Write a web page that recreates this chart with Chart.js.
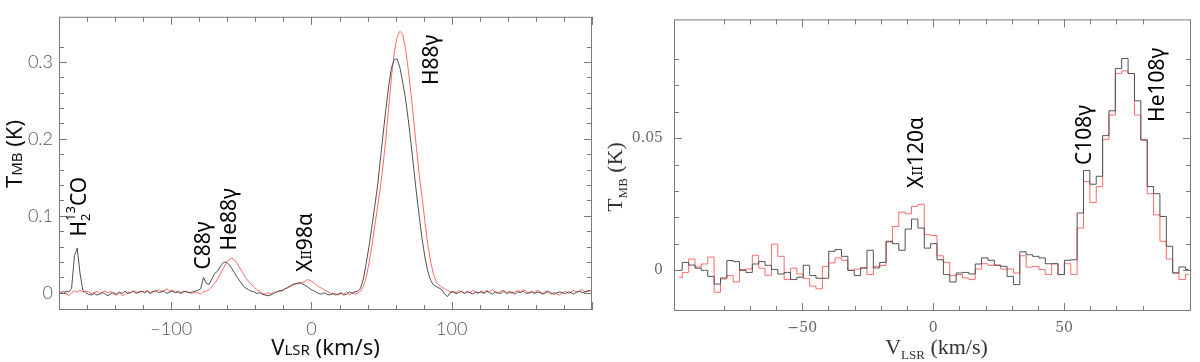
<!DOCTYPE html>
<html>
<head>
<meta charset="utf-8">
<script src="https://cdn.jsdelivr.net/npm/chart.js@4.4.1/dist/chart.umd.min.js"></script>
<style>
  html, body { margin: 0; padding: 0; background: #fff; }
  #wrap { position: relative; width: 1200px; height: 362px; overflow: hidden; }
  canvas { position: absolute; top: 0; }
  #leftChart { left: 0; }
  #rightChart { left: 600px; }
</style>
</head>
<body>
<div id="wrap">
  <canvas id="leftChart" width="600" height="362"></canvas>
  <canvas id="rightChart" width="600" height="362"></canvas>
</div>
<script>
// ---- left panel: wide band, 2 km/s channels starting at -179 km/s ----
const wideStart = -179;
const wideStep = 2;
const wideBlack = [
   0.001, -0.001,  0.002,  0.001,  0.006,  0.048,  0.058,  0.025,  0.003,  0.000,
  -0.002, -0.003, -0.001, -0.003, -0.002,  0.000, -0.002, -0.004, -0.001,  0.000,
  -0.002,  0.001, -0.001,  0.002, -0.001,  0.000,  0.002, -0.001,  0.001,  0.002,
   0.000,  0.002, -0.001,  0.001,  0.003,  0.000,  0.001,  0.002, -0.001,  0.001,
   0.002,  0.000,  0.001, -0.001,  0.002,  0.001,  0.000,  0.001,  0.002,  0.003,
   0.005,  0.020,  0.012,  0.011,  0.018,  0.025,  0.028,  0.034,  0.039,  0.040,
   0.037,  0.032,  0.026,  0.020,  0.015,  0.010,  0.006,  0.004,  0.002,  0.001,
  -0.001,  0.000, -0.002, -0.003, -0.004, -0.003, -0.001,  0.001,  0.002,  0.003,
   0.005,  0.007,  0.009,  0.011,  0.012,  0.013,  0.012,  0.010,  0.008,  0.005,
   0.003,  0.001, -0.001, -0.002,  0.000, -0.002, -0.003, -0.001, -0.003, -0.002,
   0.000, -0.003, -0.002,  0.001, -0.001,  0.001,  0.002,  0.006,  0.018,  0.038,
   0.060,  0.085,  0.111,  0.137,  0.171,  0.205,  0.238,  0.268,  0.292,  0.303,
   0.304,  0.293,  0.274,  0.253,  0.225,  0.194,  0.160,  0.127,  0.097,  0.068,
   0.045,  0.027,  0.016,  0.010,  0.008,  0.006,  0.004, -0.002, -0.005,  0.000,
   0.001, -0.001,  0.000,  0.002, -0.001,  0.001,  0.000, -0.002,  0.001,  0.000,
   0.001, -0.001,  0.002,  0.000, -0.002,  0.001,  0.000, -0.001,  0.002, -0.001,
   0.000,  0.001, -0.002,  0.001,  0.000,  0.002, -0.001,  0.000,  0.001, -0.001,
   0.001,  0.000, -0.002,  0.000,  0.002, -0.001, -0.002,  0.000,  0.001,  0.000,
  -0.001,  0.001,  0.000, -0.002,  0.001,  0.002,  0.000,  0.001,  0.002,  0.003
];
const wideRed = [
   0.000,  0.002, -0.001, -0.004,  0.000,  0.002,  0.001,  0.003,  0.001,  0.002,
   0.001, -0.001,  0.000,  0.002, -0.001,  0.001,  0.002,  0.000,  0.002, -0.002,
  -0.003,  0.000, -0.004, -0.002,  0.001,  0.000,  0.002,  0.001,  0.000,  0.002,
   0.001,  0.003,  0.000,  0.002,  0.001,  0.004,  0.002,  0.003,  0.005,  0.002,
   0.003,  0.001,  0.002,  0.000,  0.001,  0.002,  0.000, -0.001,  0.001,  0.000,
  -0.002,  0.001,  0.002,  0.004,  0.008,  0.012,  0.018,  0.024,  0.031,  0.038,
   0.043,  0.045,  0.043,  0.038,  0.032,  0.026,  0.020,  0.015,  0.011,  0.007,
   0.004,  0.002, -0.001, -0.002,  0.000, -0.002,  0.001,  0.000,  0.003,  0.002,
   0.005,  0.006,  0.008,  0.010,  0.011,  0.012,  0.013,  0.014,  0.017,  0.016,
   0.014,  0.011,  0.008,  0.006,  0.004,  0.002,  0.000, -0.002, -0.001, -0.003,
  -0.001, -0.002,  0.001, -0.003,  0.000, -0.002, -0.001,  0.002,  0.008,  0.020,
   0.038,  0.060,  0.085,  0.110,  0.135,  0.165,  0.200,  0.240,  0.280,  0.312,
   0.332,  0.340,  0.336,  0.318,  0.290,  0.258,  0.222,  0.186,  0.150,  0.122,
   0.090,  0.062,  0.040,  0.024,  0.014,  0.010,  0.007,  0.005,  0.003,  0.001,
   0.002,  0.000,  0.003,  0.001, -0.001,  0.002,  0.000,  0.003,  0.001, -0.001,
   0.002,  0.000,  0.003,  0.001,  0.004,  0.001, -0.001,  0.002,  0.003,  0.000,
   0.002, -0.001,  0.001,  0.003,  0.001,  0.004,  0.002, -0.001,  0.002,  0.000,
   0.003,  0.001, -0.001,  0.002,  0.000, -0.002,  0.001, -0.002, -0.003,  0.000,
   0.002, -0.001,  0.001,  0.003,  0.000,  0.002,  0.004,  0.001,  0.003,  0.002
];

// ---- right panel: zoom on the 108 band, 2.433 km/s channels from -97.06 km/s ----
const zoomStart = -97.06;
const zoomStep = 2.433;
const zoomBlack = [
   0.0000,  0.0030,  0.0020,  0.0008,  0.0000, -0.0023, -0.0052, -0.0029,  0.0037,  0.0033,
   0.0000, -0.0008,  0.0024,  0.0033,  0.0019,  0.0003, -0.0014, -0.0008, -0.0035, -0.0026,
   0.0019, -0.0020, -0.0030, -0.0030,  0.0072,  0.0079,  0.0053,  0.0000, -0.0020,  0.0008,
   0.0076,  0.0009,  0.0030,  0.0110,  0.0101,  0.0076,  0.0156,  0.0194,  0.0160,  0.0084,
   0.0101,  0.0040, -0.0016, -0.0044, -0.0010, -0.0008, -0.0014,  0.0024,  0.0047,  0.0038,
   0.0019,  0.0015, -0.0023, -0.0054,  0.0070,  0.0059,  0.0053,  0.0047,  0.0025,  0.0025,
  -0.0016,  0.0038,  0.0040,  0.0217,  0.0378,  0.0326,  0.0356,  0.0510,  0.0604,  0.0764,
   0.0802,  0.0745,  0.0642,  0.0493,  0.0317,  0.0290,  0.0204,  0.0091, -0.0010,  0.0013,
   0.0003
];
const zoomRed = [
  -0.0026, -0.0008,  0.0043,  0.0013,  0.0024,  0.0050, -0.0083, -0.0033, -0.0020, -0.0044,
   0.0003,  0.0005,  0.0057,  0.0008, -0.0019,  0.0099,  0.0053, -0.0035,  0.0008, -0.0014,
  -0.0031, -0.0060, -0.0070,  0.0015,  0.0028,  0.0047,  0.0038,  0.0000,  0.0005,  0.0011,
  -0.0016,  0.0015,  0.0018,  0.0107,  0.0166,  0.0220,  0.0214,  0.0242,  0.0250,  0.0135,
   0.0132,  0.0055,  0.0030, -0.0020, -0.0016, -0.0029, -0.0035,  0.0005,  0.0025,  0.0019,
   0.0020,  0.0005,  0.0005, -0.0010,  0.0055,  0.0012,  0.0015,  0.0003, -0.0016,  0.0025,
  -0.0016,  0.0025, -0.0016,  0.0160,  0.0336,  0.0257,  0.0317,  0.0496,  0.0588,  0.0745,
   0.0755,  0.0745,  0.0588,  0.0496,  0.0290,  0.0210,  0.0110,  0.0043, -0.0010, -0.0035,
  -0.0016
];

// labelled ticks
const wideXTicks = [-100, 0, 100];
const wideYTicks = [0, 0.1, 0.2, 0.3];
const zoomXTicks = [-50, 0, 50];
const zoomYTicks = [0, 0.05];

// line identifications (text, velocity, temperature where the text starts)
const wideLines = [
  { name: 'H2_13CO', v: -164.7, t: 0.073 },
  { name: 'C88γ', v: -76.4, t: 0.030 },
  { name: 'He88γ', v: -58.1, t: 0.055 },
  { name: 'XII98α', v: -3.7, t: 0.027 },
  { name: 'H88γ', v: 85.9, t: 0.270 }
];
const zoomLines = [
  { name: 'XII120α', v: -6.1, t: 0.0312 },
  { name: 'C108γ', v: 58.2, t: 0.0399 },
  { name: 'He108γ', v: 86.0, t: 0.0562 }
];

const BLACK = 'rgb(80, 80, 80)';
const RED = 'rgb(255, 105, 105)';
const labelFont = '"Noto Sans", "Open Sans", sans-serif';

function channels(start, step, values) {
    return values.map((t, i) => ({ x: start + i * step, y: t }));
}

function fmt(v) {
    const s = String(Math.round(v * 1000) / 1000);
    return s.replace('-', '\u2212');
}

function tickLabel(list) {
    return function(value) {
        const hit = list.find(t => Math.abs(t - value) < 1e-6);
        return hit === undefined ? '' : fmt(hit);
    };
}

function onGrid(v, step) {
    const r = v / step;
    return Math.abs(r - Math.round(r)) < 1e-6;
}

// draw a run of text pieces with different sizes / offsets
function drawParts(ctx, parts, x, y, rotated, align) {
    ctx.save();
    ctx.translate(x, y);
    if (rotated) ctx.rotate(-Math.PI / 2);
    let total = 0;
    parts.forEach(p => {
        ctx.font = p.font;
        if (!p.stack) total += ctx.measureText(p.text).width;
    });
    let cx = align === 'center' ? -total / 2 : 0;
    parts.forEach(p => {
        ctx.font = p.font;
        ctx.fillText(p.text, cx, p.dy || 0);
        if (!p.stack) cx += ctx.measureText(p.text).width;
    });
    ctx.restore();
}

function lineParts(name) {
    const big = '21px ' + labelFont;
    const small = '14px ' + labelFont;
    const sup = '13px ' + labelFont;
    if (name === 'H2_13CO') {
        return [
            { text: 'H', font: big },
            { text: '2', font: sup, dy: 6, stack: true },
            { text: '13', font: sup, dy: -9 },
            { text: 'CO', font: big }
        ];
    }
    if (name.startsWith('XII')) {
        return [
            { text: 'X', font: big },
            { text: 'II', font: small, dy: 1 },
            { text: name.slice(3), font: big }
        ];
    }
    return [{ text: name, font: big }];
}

// frame with inward tick marks on all four sides
const frameTicks = {
    id: 'frameTicks',
    afterDatasetsDraw(chart, args, opts) {
        const { ctx, chartArea: a, scales: { x, y } } = chart;
        ctx.save();
        ctx.strokeStyle = opts.color;
        ctx.lineWidth = 1;
        ctx.strokeRect(a.left + 0.5, a.top + 0.5, a.right - a.left - 1, a.bottom - a.top - 1);
        ctx.beginPath();
        x.ticks.forEach(t => {
            if (!onGrid(t.value, opts.xStep)) return;
            const len = onGrid(t.value, opts.xMajor) ? opts.major : opts.minor;
            const px = Math.round(x.getPixelForValue(t.value)) + 0.5;
            ctx.moveTo(px, a.bottom);
            ctx.lineTo(px, a.bottom - len);
            ctx.moveTo(px, a.top);
            ctx.lineTo(px, a.top + len);
        });
        y.ticks.forEach(t => {
            if (!onGrid(t.value, opts.yStep)) return;
            const len = onGrid(t.value, opts.yMajor) ? opts.major : opts.minor;
            const py = Math.round(y.getPixelForValue(t.value)) + 0.5;
            ctx.moveTo(a.left, py);
            ctx.lineTo(a.left + len, py);
            ctx.moveTo(a.right, py);
            ctx.lineTo(a.right - len, py);
        });
        ctx.stroke();
        ctx.restore();
    }
};

// axis titles and line identifications
const textLayer = {
    id: 'textLayer',
    afterDraw(chart, args, opts) {
        const { ctx, chartArea: a, scales: { x, y } } = chart;
        ctx.save();
        ctx.fillStyle = opts.titleColor;
        ctx.textBaseline = 'alphabetic';
        drawParts(ctx, opts.yTitle, opts.yTitleX, opts.yTitleY, true, 'center');
        drawParts(ctx, opts.xTitle, (a.left + a.right) / 2 + opts.xTitleShift, opts.xTitleY, false, 'center');
        ctx.fillStyle = '#000';
        ctx.textBaseline = 'middle';
        opts.lines.forEach(l => {
            drawParts(ctx, lineParts(l.name), x.getPixelForValue(l.v), y.getPixelForValue(l.t), true, 'left');
        });
        ctx.restore();
    }
};

function makePanel(canvasId, p) {
    return new Chart(document.getElementById(canvasId), {
        type: 'line',
        data: {
            datasets: [
                { data: channels(p.start, p.step, p.black), borderColor: BLACK },
                { data: channels(p.start, p.step, p.red), borderColor: RED }
            ]
        },
        options: {
            responsive: false,
            animation: false,
            layout: { padding: p.padding },
            elements: {
                line: { borderWidth: 1, stepped: p.stepped, tension: 0, fill: false },
                point: { radius: 0 }
            },
            scales: {
                x: {
                    type: 'linear',
                    min: p.xMin,
                    max: p.xMax,
                    afterFit: s => { s.height = p.xAxisHeight; },
                    grid: { display: false, drawTicks: false },
                    border: { display: false },
                    ticks: {
                        stepSize: p.xStep,
                        autoSkip: false,
                        maxRotation: 0,
                        padding: p.xPad,
                        color: p.tickColor,
                        font: p.tickFont,
                        callback: tickLabel(p.xTicks)
                    }
                },
                y: {
                    min: p.yMin,
                    max: p.yMax,
                    afterFit: s => { s.width = p.yAxisWidth; },
                    grid: { display: false, drawTicks: false },
                    border: { display: false },
                    ticks: {
                        stepSize: p.yStep,
                        autoSkip: false,
                        padding: p.yPad,
                        color: p.tickColor,
                        font: p.tickFont,
                        callback: tickLabel(p.yTicks)
                    }
                }
            },
            plugins: {
                legend: { display: false },
                tooltip: { enabled: false },
                frameTicks: {
                    color: p.frameColor,
                    xStep: p.xStep, xMajor: p.xMajor,
                    yStep: p.yStep, yMajor: p.yMajor,
                    major: 8, minor: 5
                },
                textLayer: {
                    titleColor: p.titleColor,
                    yTitle: p.yTitle, yTitleX: p.yTitleX, yTitleY: p.yTitleY,
                    xTitle: p.xTitle, xTitleY: p.xTitleY, xTitleShift: p.xTitleShift,
                    lines: p.lines
                }
            }
        },
        plugins: [frameTicks, textLayer]
    });
}

const sansTitle = '22px ' + labelFont;
const sansSmall = '15px ' + labelFont;
const serifTitle = '22px "Liberation Serif", serif';
const serifSub = '13px "Liberation Serif", serif';

makePanel('leftChart', {
    start: wideStart, step: wideStep, black: wideBlack, red: wideRed,
    stepped: false,
    xMin: -180, xMax: 200, yMin: -0.0225, yMax: 0.3587,
    xStep: 20, xMajor: 100, yStep: 0.02, yMajor: 0.1,
    xTicks: wideXTicks, yTicks: wideYTicks,
    padding: { top: 0, right: 3, bottom: 0, left: 0 },
    xAxisHeight: 52, yAxisWidth: 59, xPad: 8, yPad: 6,
    tickColor: '#555', tickFont: { family: 'Lato', size: 18, weight: 300 },
    frameColor: '#7a7a7a', titleColor: '#111',
    yTitle: [
        { text: 'T', font: sansTitle },
        { text: 'MB', font: sansSmall },
        { text: ' (K)', font: sansTitle }
    ],
    yTitleX: 22, yTitleY: 154,
    xTitle: [
        { text: 'V', font: sansTitle },
        { text: 'LSR', font: sansSmall },
        { text: ' (km/s)', font: sansTitle }
    ],
    xTitleY: 355, xTitleShift: 0,
    lines: wideLines
});

makePanel('rightChart', {
    start: zoomStart, step: zoomStep, black: zoomBlack, red: zoomRed,
    stepped: 'middle',
    xMin: -99, xMax: 98.5, yMin: -0.0154, yMax: 0.095,
    xStep: 10, xMajor: 50, yStep: 0.01, yMajor: 0.05,
    xTicks: zoomXTicks, yTicks: zoomYTicks,
    padding: { top: 19, right: 1, bottom: 0, left: 0 },
    xAxisHeight: 51, yAxisWidth: 74, xPad: 9, yPad: 11,
    tickColor: '#666', tickFont: { family: 'DejaVu Serif', size: 14, weight: 'normal' },
    frameColor: '#7a7a7a', titleColor: '#333',
    yTitle: [
        { text: 'T', font: serifTitle },
        { text: 'MB', font: serifSub, dy: 5 },
        { text: ' (K)', font: serifTitle }
    ],
    yTitleX: 22, yTitleY: 177,
    xTitle: [
        { text: 'V', font: serifTitle },
        { text: 'LSR', font: serifSub, dy: 5 },
        { text: ' (km/s)', font: serifTitle }
    ],
    xTitleY: 354, xTitleShift: 4,
    lines: zoomLines
});
</script>
</body>
</html>
